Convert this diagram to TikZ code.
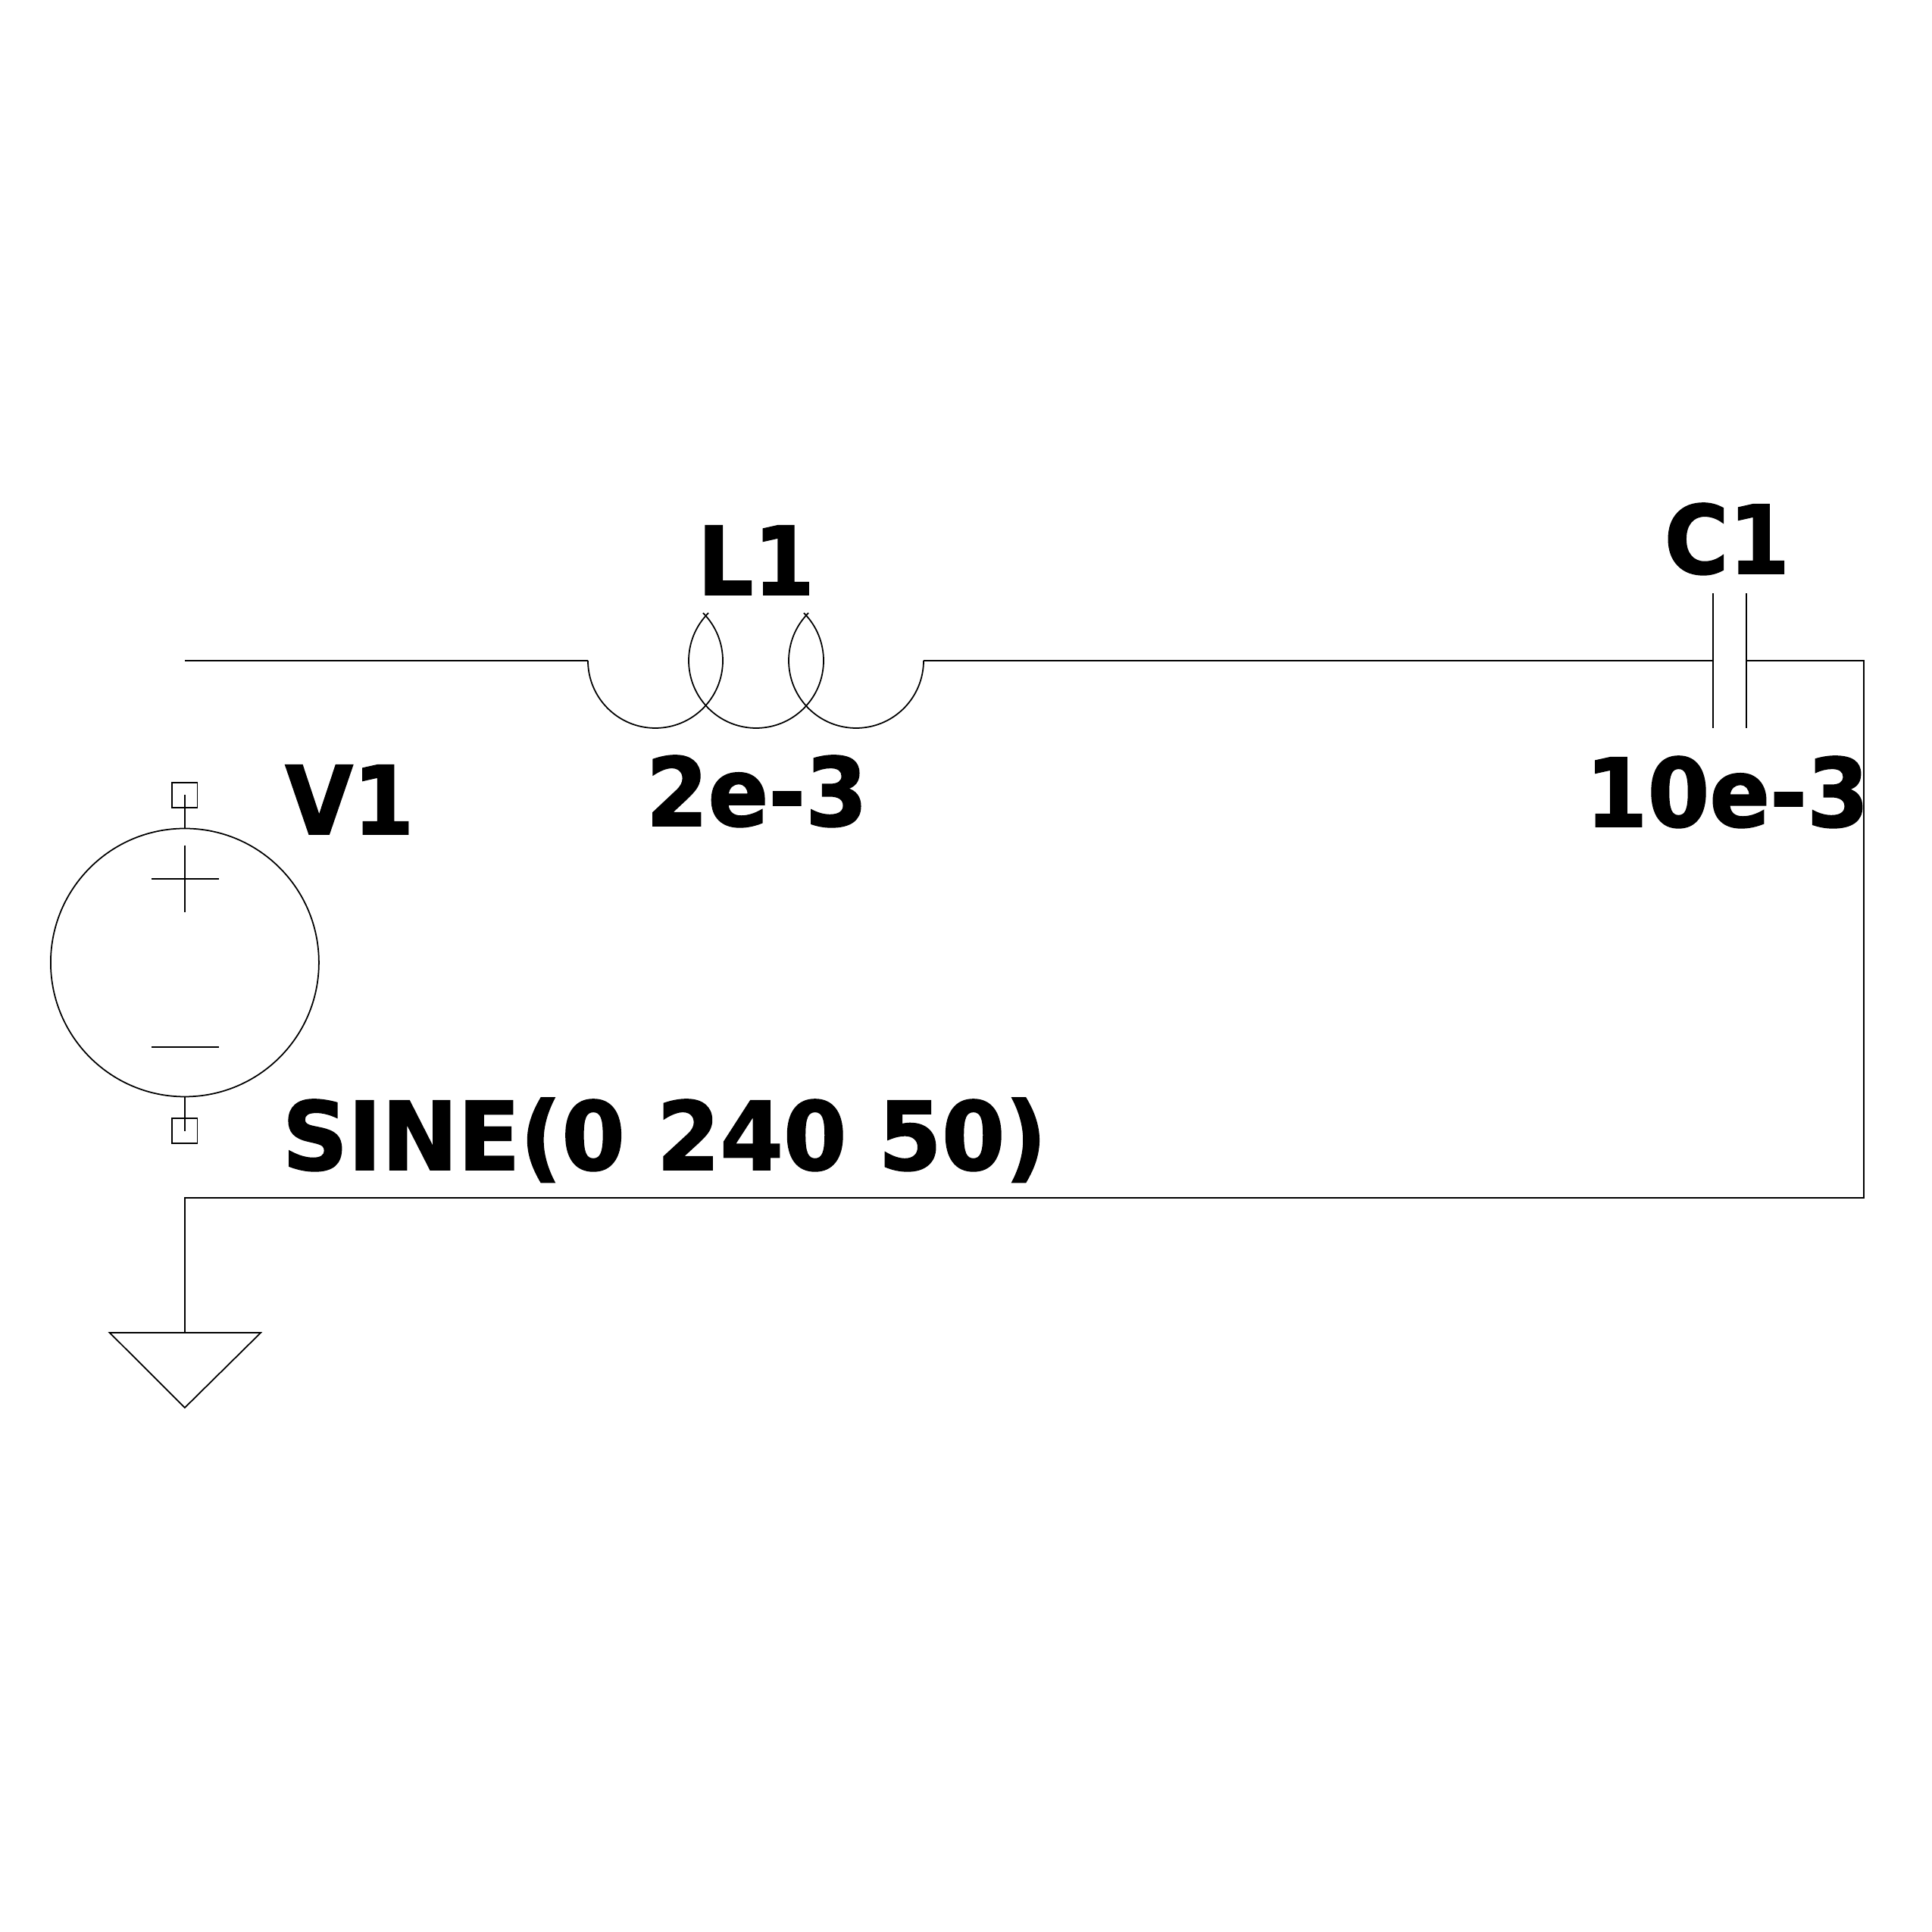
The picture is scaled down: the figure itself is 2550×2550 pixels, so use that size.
\documentclass[tikz,border=0pt]{standalone}
\usepackage{fontspec}
\newfontfamily\srcfont{DejaVu Sans}[BoldFeatures={FakeStretch=0.96,FakeBold=1.5}]
\newfontfamily\valfont{DejaVu Sans}[BoldFeatures={FakeStretch=0.94,FakeBold=1.5}]
\newfontfamily\refdesfont{DejaVu Sans}[BoldFeatures={FakeStretch=0.925,FakeBold=1.5}]
\tikzset{
    wire/.style={line width=0.5pt, line join=miter},
    lbl/.style={anchor=base west, inner sep=0pt, font=\valfont\bfseries\fontsize{35.6}{40}\selectfont},
    lblsrc/.style={lbl, font=\srcfont\bfseries\fontsize{35.6}{40}\selectfont},
    lblref/.style={lbl, font=\refdesfont\bfseries\fontsize{35.6}{40}\selectfont},
    pinbox/.style={draw, line width=0.5pt, minimum size=3.34mm, inner sep=0pt},
    srcring/.style={draw, line width=0.5pt, circle, minimum size=35.4mm, inner sep=0pt}
}
\begin{document}
\begin{tikzpicture}[x=0.1mm, y=0.1mm]
    \useasboundingbox (0,0) rectangle (2550,2550);

    % Wire corners and free end
    \coordinate (wirel) at (243.9,1678);
    \coordinate (cornertr) at (2460.3,1678);
    \coordinate (cornerbr) at (2460.3,969);
    \coordinate (cornerbl) at (243.9,969);

    % Draw the source
    \node[srcring] (V1) at (243.9,1279.5) {};
    \node[pinbox] (pintop) at (243.9,1500.6) {};
    \node[pinbox] (pinbot) at (243.9,1057.4) {};
    \draw[wire] (pintop.center) -- (V1.north);
    \draw[wire] (V1.south) -- (pinbot.center);

    % Plus and minus signs
    \draw[wire] (199.8,1390) -- (288.6,1390);
    \draw[wire] (243.9,1434.3) -- (243.9,1345.5);
    \draw[wire] (199.8,1168) -- (288.6,1168);

    % Draw the coil
    \coordinate (coila) at (865,1678);
    \coordinate (coilb) at (998,1678);
    \coordinate (coilc) at (1130,1678);
    \coordinate (lleft) at ([shift={(180:89)}]coila);
    \coordinate (lright) at ([shift={(0:89)}]coilc);
    \draw[wire] (lleft) arc[start angle=180, end angle=405, radius=89];
    \draw[wire] ([shift={(135:89)}]coilb) arc[start angle=135, end angle=405, radius=89];
    \draw[wire] ([shift={(135:89)}]coilc) arc[start angle=135, end angle=360, radius=89];

    % Draw the capacitor plates
    \coordinate (capa) at (2261,1678);
    \coordinate (capb) at (2305.3,1678);
    \draw[wire] (2261,1766.7) -- (2261,1589);
    \draw[wire] (2305.3,1766.7) -- (2305.3,1589);

    % Draw the wires
    \draw[wire] (wirel) -- (lleft);
    \draw[wire] (lright) -- (capa);
    \coordinate (gndtop) at (243.9,791);
    \draw[wire] (capb) -- (cornertr) -- (cornerbr) -- (cornerbl) -- (gndtop);

    % Draw the ground
    \coordinate (gndl) at (144.7,791);
    \coordinate (gndr) at (344.2,791);
    \coordinate (gndtip) at (243.9,692);
    \draw[wire] (gndl) -- (gndr) -- (gndtip) -- cycle;

    % Add labels
    \node[lblref] (lblL) at (920,1765) {L1};
    \node[lbl] (lblLval) at (852,1460) {2e-3};
    \node[lblref] (lblV) at (375.7,1449) {V1};
    \node[lblsrc] (lblVval) at (372,1006) {SINE(0 240 50)};
    \node[lblref] (lblC) at (2196,1793) {C1};
    \node[lbl] (lblCval) at (2092,1459) {10e-3};
\end{tikzpicture}
\end{document}
